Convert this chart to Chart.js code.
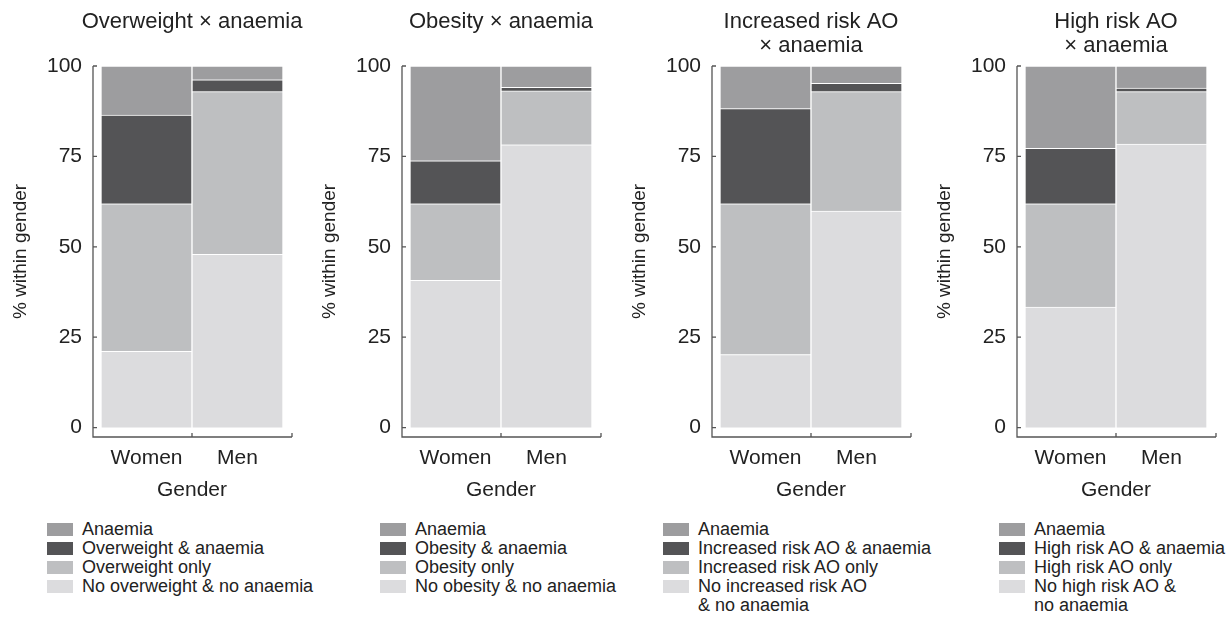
<!DOCTYPE html>
<html>
<head>
<meta charset="utf-8">
<script src="https://cdn.jsdelivr.net/npm/chart.js@4.4.0/dist/chart.umd.min.js"></script>
<style>
  body { margin: 0; background: #fff; width: 1231px; height: 622px; position: relative; overflow: hidden;
         font-family: "Liberation Sans", Arial, sans-serif; color: #222; }
  .panel { position: absolute; top: 0; width: 384px; height: 510px; }
  .legend { position: absolute; top: 520px; font-size: 18px; line-height: 19px; }
  .legend .row { display: flex; align-items: flex-start; }
  .legend .sw { width: 26px; height: 13px; margin-top: 3px; margin-right: 9px; flex: none; }
</style>
</head>
<body>
<div class="panel"><canvas id="c0"></canvas></div>
<div class="panel"><canvas id="c1"></canvas></div>
<div class="panel"><canvas id="c2"></canvas></div>
<div class="panel"><canvas id="c3"></canvas></div>
<div class="legend" id="l0"></div>
<div class="legend" id="l1"></div>
<div class="legend" id="l2"></div>
<div class="legend" id="l3"></div>
<script>
// --- DỮ LIỆU ---
const genders = ['Women', 'Men'];
const yTicks = [0, 25, 50, 75, 100];

const panelTitles = [
    ['Overweight × anaemia'],
    ['Obesity × anaemia'],
    ['Increased risk AO', '× anaemia'],
    ['High risk AO', '× anaemia']
];

// legend order top -> bottom
const legendLabels = [
    ['Anaemia', 'Overweight & anaemia', 'Overweight only', 'No overweight & no anaemia'],
    ['Anaemia', 'Obesity & anaemia', 'Obesity only', 'No obesity & no anaemia'],
    ['Anaemia', 'Increased risk AO & anaemia', 'Increased risk AO only', 'No increased risk AO<br>& no anaemia'],
    ['Anaemia', 'High risk AO & anaemia', 'High risk AO only', 'No high risk AO &<br>no anaemia']
];

// % within gender, [Women, Men]
const overweightNone = [21.1, 47.9];
const overweightOnly = [40.8, 45.0];
const overweightAnaemia = [24.5, 3.3];
const overweightAnaemiaOnly = [13.6, 3.8];

const obesityNone = [40.7, 78.2];
const obesityOnly = [21.2, 14.9];
const obesityAnaemia = [11.9, 1.0];
const obesityAnaemiaOnly = [26.2, 5.9];

const incRiskNone = [20.2, 59.9];
const incRiskOnly = [41.7, 33.0];
const incRiskAnaemia = [26.3, 2.3];
const incRiskAnaemiaOnly = [11.8, 4.8];

const highRiskNone = [33.3, 78.4];
const highRiskOnly = [28.6, 14.5];
const highRiskAnaemia = [15.3, 1.0];
const highRiskAnaemiaOnly = [22.8, 6.1];

// stack order bottom -> top
const panelSeries = [
    [overweightNone, overweightOnly, overweightAnaemia, overweightAnaemiaOnly],
    [obesityNone, obesityOnly, obesityAnaemia, obesityAnaemiaOnly],
    [incRiskNone, incRiskOnly, incRiskAnaemia, incRiskAnaemiaOnly],
    [highRiskNone, highRiskOnly, highRiskAnaemia, highRiskAnaemiaOnly]
];

// --- KIỂU ---
const segColors = ['#dcdcde', '#bebfc1', '#545456', '#9d9d9f']; // bottom -> top
const panelLeft = [0, 309, 619, 924];
const legendLeft = [47, 380, 663, 999];
const TEXT = '#222';
const AXIS = '#555';
const FONT = '"Liberation Sans", Arial, sans-serif';
// canvas rộng đối xứng quanh vùng vẽ để tiêu đề nằm giữa
const CANVAS_W = 384;
const CANVAS_H = 510;

// trục lệch ra ngoài + vạch chia hướng vào trong
const offsetAxes = {
    id: 'offsetAxes',
    afterDraw(chart) {
        const { ctx, chartArea, scales } = chart;
        const axX = chartArea.left - 8;
        const axR = chartArea.right + 9;
        const axY = chartArea.bottom;
        const top = scales.y.getPixelForValue(100);
        ctx.save();
        ctx.strokeStyle = AXIS;
        ctx.lineWidth = 1.3;
        ctx.beginPath();
        ctx.moveTo(axX, top);
        ctx.lineTo(axX, axY);
        ctx.lineTo(axR, axY);
        yTicks.forEach(v => {
            const py = scales.y.getPixelForValue(v);
            ctx.moveTo(axX, py);
            ctx.lineTo(axX + 4, py);
        });
        const mid = (scales.x.getPixelForValue(0) + scales.x.getPixelForValue(1)) / 2;
        [mid, axR].forEach(px => {
            ctx.moveTo(px, axY);
            ctx.lineTo(px, axY - 4);
        });
        ctx.stroke();
        ctx.restore();
    }
};

function buildPanel(i) {
    const single = panelTitles[i].length === 1;
    const series = panelSeries[i];
    const labels = legendLabels[i].slice().reverse();
    document.querySelectorAll('.panel')[i].style.left = panelLeft[i] + 'px';

    return new Chart(document.getElementById('c' + i), {
        type: 'bar',
        data: {
            labels: genders,
            datasets: series.map((d, k) => ({
                label: labels[k].replace('<br>', ' '),
                data: d,
                backgroundColor: segColors[k],
                borderColor: '#fff',
                borderWidth: 1,
                barPercentage: 1,
                categoryPercentage: 1
            }))
        },
        options: {
            responsive: false,
            animation: false,
            devicePixelRatio: 1,
            layout: { padding: 0 },
            plugins: {
                legend: { display: false },
                tooltip: { enabled: false },
                title: {
                    display: true,
                    text: panelTitles[i],
                    fullSize: true,
                    color: TEXT,
                    font: { family: FONT, size: 22, weight: 'normal', lineHeight: '24px' },
                    padding: single ? { top: 10, bottom: 32 } : { top: 10, bottom: 8 }
                }
            },
            scales: {
                x: {
                    stacked: true,
                    grid: { display: false },
                    border: { display: false },
                    ticks: { color: TEXT, font: { family: FONT, size: 21 }, padding: 1 },
                    title: {
                        display: true, text: 'Gender', color: TEXT,
                        font: { family: FONT, size: 21, lineHeight: 1.2 },
                        padding: { top: 0, bottom: 7 }
                    },
                    afterFit(s) { s.height = 73; }
                },
                y: {
                    stacked: true,
                    min: -2.6,
                    max: 100,
                    grid: { display: false, drawTicks: false },
                    border: { display: false },
                    afterBuildTicks(s) { s.ticks = yTicks.map(v => ({ value: v })); },
                    ticks: { color: TEXT, font: { family: FONT, size: 21 }, padding: 19 },
                    title: {
                        display: true, text: '% within gender', color: TEXT,
                        font: { family: FONT, size: 19, lineHeight: 1.2 },
                        padding: { top: 9, bottom: 0 }
                    },
                    afterFit(s) { s.width = 101; }
                },
                // trục phải trống, chỉ giữ chỗ
                yPad: {
                    position: 'right',
                    grid: { display: false },
                    border: { display: false },
                    ticks: { display: false },
                    afterFit(s) { s.width = CANVAS_W - 283; }
                }
            }
        },
        plugins: [offsetAxes]
    });
}

function buildLegend(i) {
    const el = document.getElementById('l' + i);
    el.style.left = legendLeft[i] + 'px';
    const cols = segColors.slice().reverse();
    el.innerHTML = legendLabels[i].map((t, k) => `
        <div class="row"><span class="sw" style="background:${cols[k]}"></span><span>${t}</span></div>
    `).join('');
}

document.querySelectorAll('canvas').forEach(c => { c.width = CANVAS_W; c.height = CANVAS_H; });
[0, 1, 2, 3].forEach(i => { buildPanel(i); buildLegend(i); });
</script>
</body>
</html>
